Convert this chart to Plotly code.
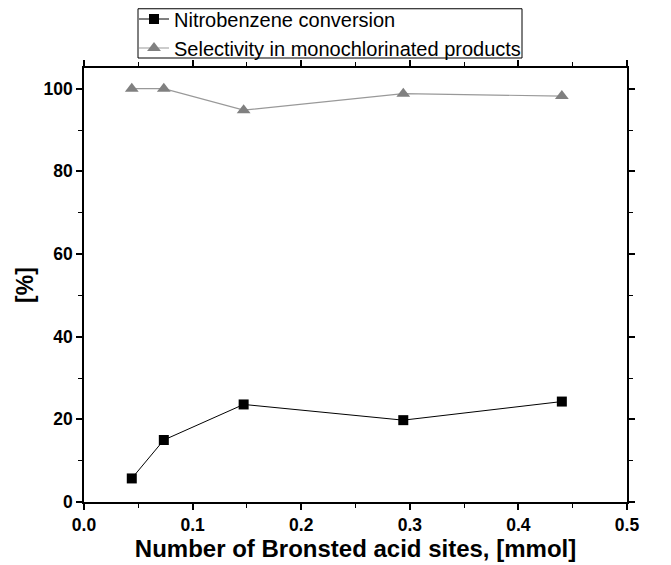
import plotly.graph_objects as go

bronsted_sites = [0.044, 0.0735, 0.147, 0.294, 0.44]
conversion = [5.7, 15.0, 23.6, 19.8, 24.3]
selectivity = [100.0, 100.0, 94.8, 98.8, 98.2]

x_ticks = [0.0, 0.1, 0.2, 0.3, 0.4, 0.5]
x_ticklabels = ["0.0", "0.1", "0.2", "0.3", "0.4", "0.5"]
y_ticks = [0, 20, 40, 60, 80, 100]

FONT = "Liberation Sans, Arial, Helvetica, sans-serif"

W, H = 671, 565
ML, MR, MT, MB = 76, 52, 60, 71
PW, PH = W - ML - MR, H - MT - MB


def px_x(p):
    return (p - ML) / PW


def px_y(p):
    return (H - MB - p) / PH


fig = go.Figure()
fig.add_trace(go.Scatter(
    x=bronsted_sites, y=conversion, mode="lines+markers",
    name="Nitrobenzene conversion",
    line=dict(color="black", width=1),
    marker=dict(symbol="square", size=10, color="black"),
))
fig.add_trace(go.Scatter(
    x=bronsted_sites, y=selectivity, mode="lines+markers",
    name="Selectivity in monochlorinated products",
    line=dict(color="#999999", width=1.2),
    marker=dict(symbol="triangle-up", size=12, color="#808080"),
))

axis_common = dict(
    showline=True, linecolor="black", linewidth=1.5, mirror="allticks",
    ticks="outside", ticklen=6, tickwidth=1.5, tickcolor="black",
    showgrid=False, zeroline=False,
    tickfont=dict(family=FONT, size=17.5, color="black", weight="bold"),
)

fig.update_xaxes(
    range=[0, 0.5], tickvals=x_ticks, ticktext=x_ticklabels,
    minor=dict(dtick=0.05, tick0=0, ticks="outside", ticklen=4, tickcolor="black", tickwidth=1.2),
    title=dict(text="Number of Bronsted acid sites, [mmol]",
               font=dict(family=FONT, size=24, color="black", weight="bold"), standoff=4),
    **axis_common,
)
fig.update_yaxes(
    range=[0, 105], tickvals=y_ticks,
    minor=dict(dtick=10, tick0=0, ticks="outside", ticklen=4, tickcolor="black", tickwidth=1.2),
    title=dict(text="[%]",
               font=dict(family=FONT, size=23, color="black", weight="bold"), standoff=3),
    **axis_common,
)

# legend frame
fig.add_shape(type="rect", xref="paper", yref="paper",
              x0=px_x(130), x1=px_x(514), y0=px_y(50), y1=px_y(0.75),
              line=dict(color="black", width=1), fillcolor="white", layer="below")

fig.update_layout(
    width=W, height=H,
    margin=dict(l=ML, r=MR, t=MT, b=MB, autoexpand=False),
    plot_bgcolor="white", paper_bgcolor="white",
    font=dict(family=FONT, color="black"),
    legend=dict(
        x=px_x(126), y=px_y(-8.5), xanchor="left", yanchor="top",
        borderwidth=0, bgcolor="rgba(0,0,0,0)",
        font=dict(family=FONT, size=20, color="black"),
        tracegroupgap=0, itemwidth=30,
    ),
)

fig.write_html("out.html")
